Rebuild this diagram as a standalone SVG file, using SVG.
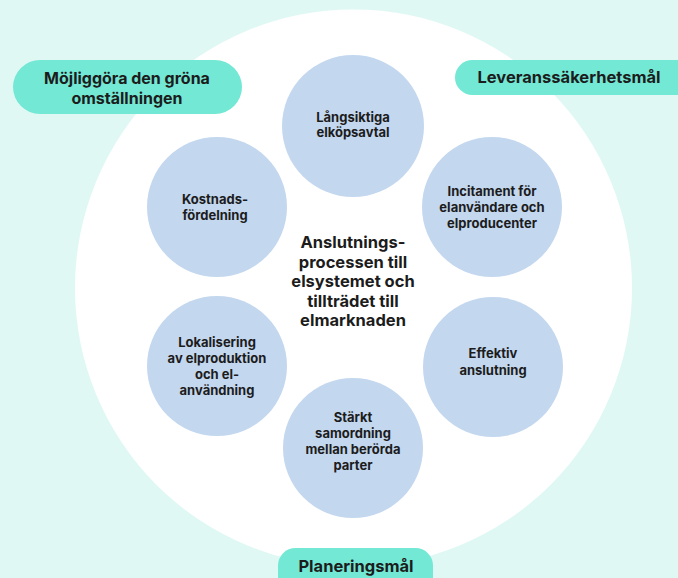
<svg xmlns="http://www.w3.org/2000/svg" width="678" height="578" viewBox="0 0 678 578">
<style>
.node circle{fill:#c3d7ef}
.pill rect{fill:#72e8d5}
text{font-family:Inter,"Noto Sans","DejaVu Sans",sans-serif;font-weight:700;fill:#1c1c1c;text-anchor:middle}
.s{font-size:13px}
.m{font-size:16.5px}
.p{font-size:16.5px}
.p1{font-size:16px}
</style>
<rect x="0" y="0" width="678" height="578" fill="#e0f8f4"/>
<circle cx="353.5" cy="288" r="278.5" fill="#ffffff"/>
<g id="connectors"></g>
<g id="center" class="center">
<text class="m" x="353" y="248">Anslutnings-</text>
<text class="m" x="353" y="267.5">processen till</text>
<text class="m" x="353" y="287">elsystemet och</text>
<text class="m" x="353" y="306.5">tillträdet till</text>
<text class="m" x="353" y="326">elmarknaden</text>
</g>
<g id="n1" class="node"><circle cx="353" cy="126" r="71"/>
<text class="s" x="353" y="122">Långsiktiga</text><text class="s" x="353" y="137">elköpsavtal</text></g>
<g id="n2" class="node"><circle cx="492" cy="207" r="70"/>
<text class="s" x="492" y="196">Incitament för</text><text class="s" x="492" y="212">elanvändare och</text><text class="s" x="492" y="228">elproducenter</text></g>
<g id="n3" class="node"><circle cx="493" cy="367" r="70"/>
<text class="s" x="493" y="358">Effektiv</text><text class="s" x="493" y="375">anslutning</text></g>
<g id="n4" class="node"><circle cx="353" cy="448" r="70"/>
<text class="s" x="353" y="422">Stärkt</text><text class="s" x="353" y="438">samordning</text><text class="s" x="353" y="454">mellan berörda</text><text class="s" x="353" y="470">parter</text></g>
<g id="n5" class="node"><circle cx="217" cy="366" r="70"/>
<text class="s" x="217" y="347">Lokalisering</text><text class="s" x="217" y="363">av elproduktion</text><text class="s" x="217" y="378.5">och el-</text><text class="s" x="217" y="394.5">användning</text></g>
<g id="n6" class="node"><circle cx="217" cy="207" r="70"/>
<text class="s" x="215" y="204">Kostnads-</text><text class="s" x="215" y="219.5">fördelning</text></g>
<g id="p1" class="pill"><rect x="13" y="60" width="229" height="54" rx="27"/>
<text class="p1" x="127" y="84">Möjliggöra den gröna</text><text class="p1" x="127" y="103.5">omställningen</text></g>
<g id="p2" class="pill"><rect x="455" y="60" width="250" height="35" rx="17.5"/>
<text class="p" x="569" y="83">Leveranssäkerhetsmål</text></g>
<g id="p3" class="pill"><rect x="278" y="548" width="155" height="50" rx="17.5"/>
<text class="p" x="356" y="572">Planeringsmål</text></g>
</svg>
